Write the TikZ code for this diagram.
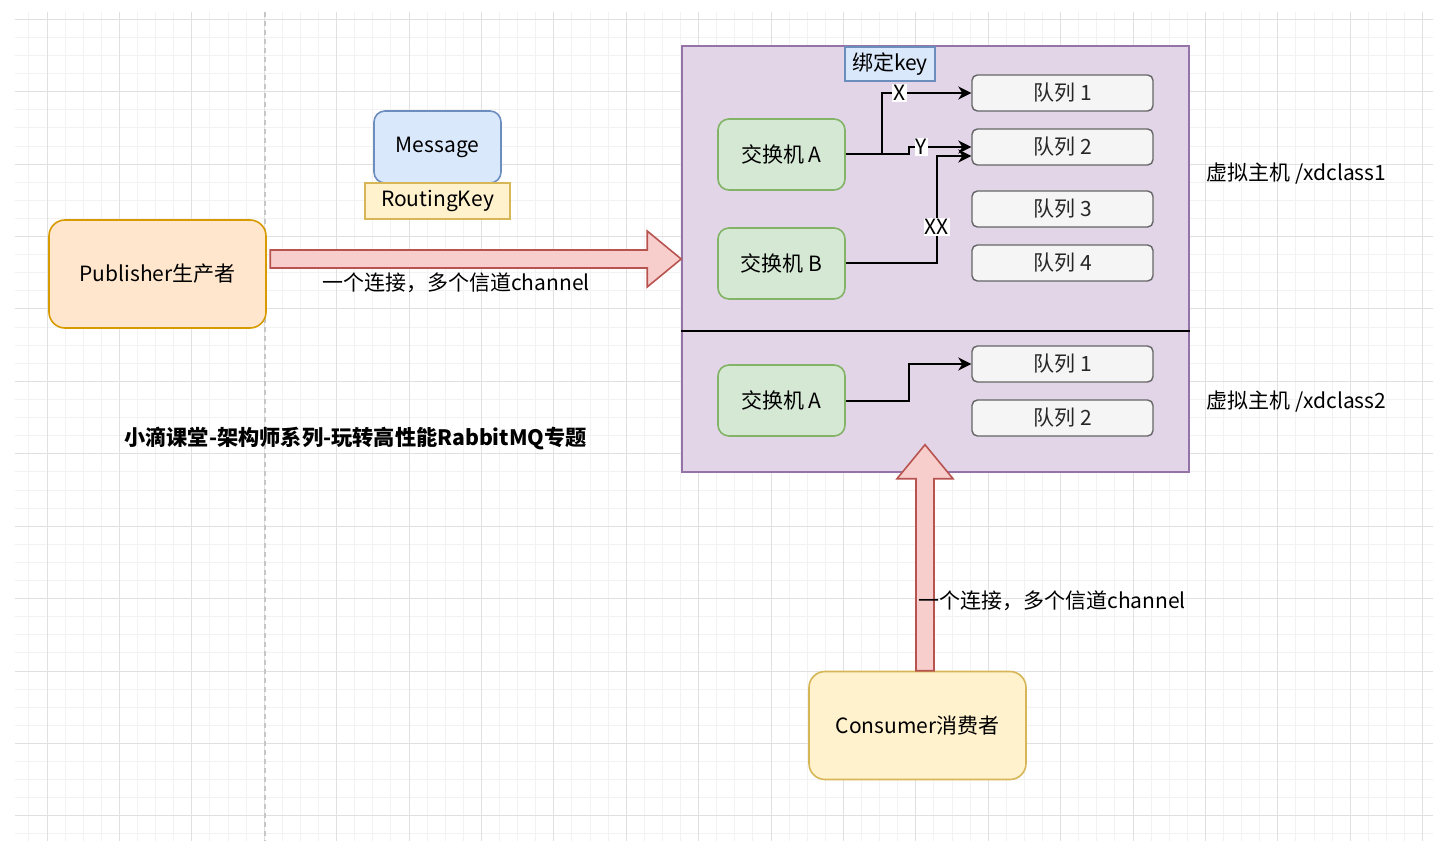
\documentclass[tikz,border=0pt]{standalone}
\usepackage{fontspec}
\setmainfont{Noto Sans CJK SC}
\usetikzlibrary{arrows.meta}

\definecolor{gridminor}{HTML}{F2F2F2}
\definecolor{gridmajor}{HTML}{E0E0E0}
\definecolor{orangefill}{HTML}{FFE6CC}
\definecolor{orangeline}{HTML}{D79B00}
\definecolor{bluefill}{HTML}{DAE8FC}
\definecolor{blueline}{HTML}{6C8EBF}
\definecolor{yellowfill}{HTML}{FFF2CC}
\definecolor{yellowline}{HTML}{D6B656}
\definecolor{greenfill}{HTML}{D5E8D4}
\definecolor{greenline}{HTML}{82B366}
\definecolor{purplefill}{HTML}{E1D5E7}
\definecolor{purpleline}{HTML}{9673A6}
\definecolor{grayfill}{HTML}{F5F5F5}
\definecolor{grayline}{HTML}{666666}
\definecolor{redfill}{HTML}{F8CECC}
\definecolor{redline}{HTML}{B85450}

\begin{document}
\begin{tikzpicture}[x=0.5pt, y=-0.5pt, >={Stealth[length=6.5pt,width=6.5pt,inset=2pt]},
    every node/.style={font=\fontsize{10.5}{12}\selectfont},
    client/.style={draw=#1line, fill=#1fill, line width=0.8pt, rounded corners=8pt, minimum width=108.5pt, minimum height=54pt},
    exch/.style={draw=greenline, fill=greenfill, line width=0.8pt, rounded corners=5.5pt, minimum width=63.5pt, minimum height=35.5pt},
    queue/.style={draw=grayline, fill=grayfill, line width=0.7pt, rounded corners=2.7pt, minimum width=90.5pt, minimum height=18pt, text=black!85},
    keylbl/.style={fill=white, inner sep=0.6pt},
    link/.style={->, line width=1pt},
    fatarrow/.style={draw=redline, fill=redfill, line width=0.8pt, line join=miter}]
    \useasboundingbox (0,0) rectangle (1448,856);

    % 1. 背景网格
    \foreach \k in {0,...,77} \draw[gridminor, line width=0.5pt] ({28.9+18.1*\k},12) -- ({28.9+18.1*\k},841);
    \foreach \k in {0,...,45} \draw[gridminor, line width=0.5pt] (15,{19.4+18.1*\k}) -- (1433,{19.4+18.1*\k});
    \foreach \k in {0,...,19} \draw[gridmajor, line width=0.5pt] ({47+72.4*\k},12) -- ({47+72.4*\k},841);
    \foreach \k in {0,...,11} \draw[gridmajor, line width=0.5pt] (15,{19.4+72.4*\k}) -- (1433,{19.4+72.4*\k});
    \draw[gray!45, line width=0.8pt, dash pattern=on 2.5pt off 2pt] (265,12) -- (265,841);

    % 2. 生产者与消息
    \node[client=orange] (pub) at (157.5,274) {Publisher生产者};
    \node[draw=blueline, fill=bluefill, line width=0.8pt, rounded corners=5.5pt, minimum width=63.5pt, minimum height=36pt] (msg) at (437.5,147) {Message};
    \node[draw=yellowline, fill=yellowfill, line width=0.8pt, minimum width=72.5pt, minimum height=18pt] (rk) at (437.5,201) {RoutingKey};

    % 3. 虚拟主机
    \node[draw=purpleline, fill=purplefill, line width=0.8pt, minimum width=253.5pt, minimum height=213pt] (vh) at (935.5,259) {};
    \draw[line width=1pt] (vh.west |- 0,331) -- (vh.east |- 0,331);
    \node[draw=blueline, fill=bluefill, line width=0.8pt, minimum width=45pt, minimum height=17pt, inner sep=0pt] (bk) at (890,64) {绑定key};

    % 4. 交换机与队列
    \node[exch] (exA) at (781.5,154.5) {交换机 A};
    \node[exch] (exB) at (781.5,263.5) {交换机 B};
    \node[exch] (exC) at (781.5,400.5) {交换机 A};
    \node[queue] (q1) at (1062.5,93) {队列 1};
    \node[queue] (q2) at (1062.5,147) {队列 2};
    \node[queue] (q3) at (1062.5,209) {队列 3};
    \node[queue] (q4) at (1062.5,263) {队列 4};
    \node[queue] (q5) at (1062.5,364) {队列 1};
    \node[queue] (q6) at (1062.5,418) {队列 2};

    % 5. 绑定关系
    \draw[link] (exA.east) -- ++(36,0) |- node[pos=0.6, keylbl] (kx) {X} (q1.west);
    \draw[link] (exA.east) -- ++(63,0) |- node[pos=0.6, keylbl] (ky) {Y} (q2.west);
    \draw[link] (exB.east) -- ++(91,0) |- node[pos=0.17, keylbl] (kxx) {XX} ([yshift=-4.5pt]q2.west);
    \draw[link] (exC.east) -- ++(63,0) |- (q5.west);

    % 6. 连接粗箭头
    \draw[fatarrow] (vh.west) -- ++(-34,-28) -- ++(0,19) -- ++(-377,0) -- ++(0,18) -- ++(377,0) -- ++(0,19) -- cycle;
    \node (conn1) at (456,283) {一个连接，多个信道channel};

    \node[client=yellow] (con) at (917.5,725.5) {Consumer消费者};
    \draw[fatarrow] ([xshift=-0.75pt]con.north) -- ++(0,-192) -- ++(-19,0) -- ++(28,-34) -- ++(28,34) -- ++(-19,0) -- ++(0,192) -- cycle;
    \node[anchor=west, inner sep=0pt] (conn2) at (918,601) {一个连接，多个信道channel};

    % 7. 说明文字
    \node[anchor=west, inner sep=0pt] (vh1) at (1206,174) {虚拟主机 /xdclass1};
    \node[anchor=west, inner sep=0pt] (vh2) at (1206,402) {虚拟主机 /xdclass2};
    \node[anchor=west, inner sep=0pt, font=\fontsize{10.6}{12}\selectfont\bfseries] (title) at (124,438) {小滴课堂-架构师系列-玩转高性能RabbitMQ专题};
\end{tikzpicture}
\end{document}
